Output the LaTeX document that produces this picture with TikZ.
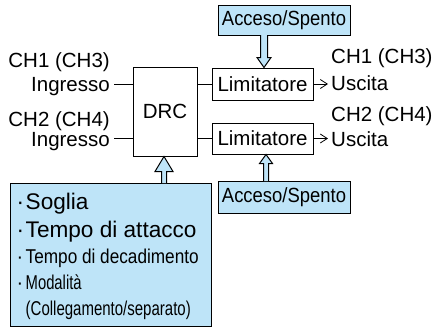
\documentclass[tikz,border=0pt]{standalone}
\usepackage{fontspec}
\setmainfont{Liberation Sans}
\usetikzlibrary{arrows.meta,calc}
\definecolor{lb}{RGB}{190,228,248}
\begin{document}
\begin{tikzpicture}[x=1bp,y=-1bp,
  lbl/.style={inner sep=0pt,font=\fontsize{20.5bp}{24bp}\selectfont},
  blk/.style={draw,line width=1bp,inner sep=0pt,font=\fontsize{20.5bp}{24bp}\selectfont},
  ctl/.style={blk,fill=lb},
  wire/.style={line width=1bp},
  outarr/.style={line width=0.8bp,-{Straight Barb[length=7bp,width=9bp]}},
  barrow/.style={draw,fill=lb,line width=1bp,line join=miter},
  par/.style={anchor=base west,inner sep=0pt},
  big/.style={font=\fontsize{22.6bp}{26bp}\selectfont},
  small/.style={font=\fontsize{20bp}{24bp}\selectfont}
]
\useasboundingbox (0,0) rectangle (445,328);

% blocks
\node[blk,minimum width=64bp,minimum height=89bp] (drc) at (165,111.5) {DRC};
\node[blk,minimum width=101bp,minimum height=32bp] (lim1) at (262.5,84) {Limitatore};
\node[blk,minimum width=101bp,minimum height=31bp] (lim2) at (262.5,138.5) {Limitatore};
\node[ctl,minimum width=132bp,minimum height=30bp] (acc1) at (284,20) {\scalebox{0.9}[1]{Acceso/Spento}};
\node[ctl,minimum width=132bp,minimum height=32bp] (acc2) at (284,197) {\scalebox{0.9}[1]{Acceso/Spento}};
\node[ctl,minimum width=200bp,minimum height=143bp] (par) at (111,254.5) {};

% parameter lines
\node[par,big] (p1) at (16.5,209) {\makebox[9bp][l]{·}Soglia};
\node[par,big] (p2) at (16.5,237) {\makebox[9bp][l]{·}Tempo di attacco};
\node[par,small] (p3) at (16.5,263) {\makebox[9bp][l]{·}\scalebox{0.86}[1]{Tempo di decadimento}};
\node[par,small] (p4) at (16.5,289) {\makebox[9bp][l]{·}\scalebox{0.74}[1]{Modalità}};
\node[par,small] (p5) at (25.5,315) {\scalebox{0.75}[1]{(Collegamento/separato)}};

% left labels
\node[lbl,anchor=base east] (ch1) at (110,67) {CH1 (CH3)};
\node[lbl,anchor=base east] (in1) at (110,91) {Ingresso};
\node[lbl,anchor=base east] (ch2) at (110,126) {CH2 (CH4)};
\node[lbl,anchor=base east] (in2) at (110,146) {Ingresso};
% right labels
\node[lbl,anchor=base west] (ch1o) at (331,63) {CH1 (CH3)};
\node[lbl,anchor=base west] (out1) at (331,90) {Uscita};
\node[lbl,anchor=base west] (ch2o) at (331,121) {CH2 (CH4)};
\node[lbl,anchor=base west] (out2) at (331,146) {Uscita};

\coordinate (w1) at (114,84);
\coordinate (w2) at (114,138.5);
\coordinate (o1) at (328,84);
\coordinate (o2) at (328,138.5);

% wires
\draw[wire] (w1) -- (w1 -| drc.west);
\draw[wire] (w2) -- (w2 -| drc.west);
\draw[wire] (drc.east |- lim1.west) -- (lim1.west);
\draw[wire] (drc.east |- lim2.west) -- (lim2.west);
\draw[outarr] (lim1.east) -- (o1);
\draw[outarr] (lim2.east) -- (o2);

% block arrows
\path[barrow] let \p1=([xshift=1.5bp]lim1.north), \p2=(acc1.south) in
  (\x1-3.5bp,\y2+0.5bp) -- (\x1-3.5bp,\y1+10bp) -- (\x1-7bp,\y1+10bp) -- (\x1,\y1)
  -- (\x1+7bp,\y1+10bp) -- (\x1+3.5bp,\y1+10bp) -- (\x1+3.5bp,\y2+0.5bp);
\path[barrow] let \p1=([xshift=-1bp]drc.south), \p2=(par.north) in
  (\x1-2.5bp,\y2-0.5bp) -- (\x1-2.5bp,\y1-15bp) -- (\x1-9bp,\y1-15bp) -- (\x1,\y1)
  -- (\x1+9bp,\y1-15bp) -- (\x1+2.5bp,\y1-15bp) -- (\x1+2.5bp,\y2-0.5bp);
\path[barrow] let \p1=([xshift=3.5bp]lim2.south), \p2=(acc2.north) in
  (\x1-2.5bp,\y2-0.5bp) -- (\x1-2.5bp,\y1-9bp) -- (\x1-6.5bp,\y1-9bp) -- (\x1,\y1)
  -- (\x1+6.5bp,\y1-9bp) -- (\x1+2.5bp,\y1-9bp) -- (\x1+2.5bp,\y2-0.5bp);
\end{tikzpicture}
\end{document}
